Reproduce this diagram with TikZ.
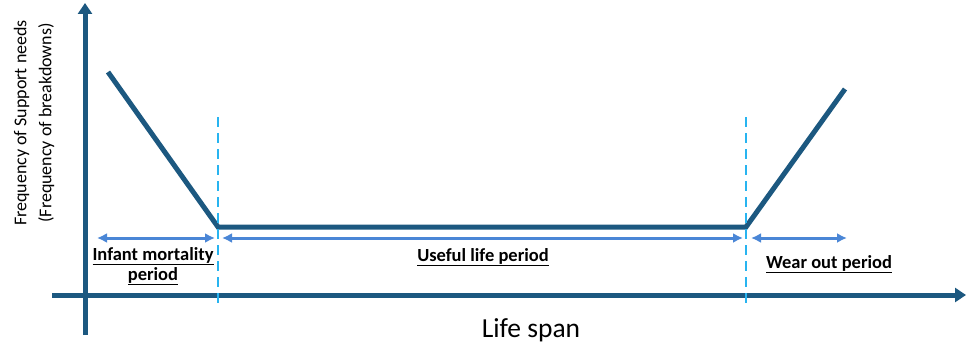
\documentclass[tikz,border=0pt]{standalone}
\usepackage{fontspec}
\setmainfont{Carlito}
\usepackage{tikz}
\usetikzlibrary{arrows.meta, positioning}
\definecolor{axisblue}{RGB}{28,88,128}
\definecolor{spanblue}{RGB}{74,134,214}
\definecolor{phasecyan}{RGB}{40,180,240}
\tikzset{
    axisline/.style={line width=5pt, axisblue, -{Triangle[length=11pt, width=14pt]}},
    curveline/.style={line width=5pt, axisblue, line join=miter},
    phaseline/.style={line width=2.5pt, phasecyan, dash pattern=on 10pt off 6pt},
    spanarrow/.style={{Latex[length=10pt, width=10pt]}-{Latex[length=10pt, width=10pt]},
        line width=3pt, spanblue},
    phaselabel/.style={anchor=base, align=center, font=\fontsize{18.5}{20}\selectfont\bfseries},
}

\begin{document}
\begin{tikzpicture}[x=1pt, y=-1pt]
    \useasboundingbox (0,0) rectangle (967,345);

    % axes
    \coordinate (yfoot) at (85,335);
    \coordinate (ytip) at (85,3);
    \coordinate (xfoot) at (52,295);
    \coordinate (xtip) at (966,295);
    \draw[axisline] (yfoot) -- (ytip);
    \draw[axisline] (xfoot) -- (xtip);

    % bathtub curve
    \coordinate (start) at (108,72);
    \coordinate (kneeA) at (218,227);
    \coordinate (kneeB) at (746,227);
    \coordinate (finish) at (845,89);
    \draw[curveline] (start) -- (kneeA) -- (kneeB) -- (finish);

    % period borders
    \coordinate (borderAtop) at (218,117);
    \coordinate (borderAbot) at (218,307);
    \coordinate (borderBtop) at (746,117);
    \coordinate (borderBbot) at (746,307);
    \draw[phaseline] (borderAtop) -- (borderAbot);
    \draw[phaseline] (borderBtop) -- (borderBbot);

    % period spans
    \coordinate (infantL) at (97,238);
    \coordinate (infantR) at (215,238);
    \coordinate (usefulL) at (222,238);
    \coordinate (usefulR) at (743,238);
    \coordinate (wearL) at (751,238);
    \coordinate (wearR) at (847,238);
    \draw[spanarrow] (infantL) -- (infantR);
    \draw[spanarrow] (usefulL) -- (usefulR);
    \draw[spanarrow] (wearL) -- (wearR);

    \node[phaselabel] (infant) at (153,280) {\underline{Infant mortality}\\\underline{period}};
    \node[phaselabel] (useful) at (483,261) {\underline{Useful life period}};
    \node[phaselabel] (wear) at (829,268) {\underline{Wear out period}};

    % axis titles
    \node[anchor=base] (xtitle) at (531,337) {\fontsize{27.5}{30}\selectfont Life span};
    \node[rotate=90, align=center, font=\fontsize{18}{25}\selectfont] (ytitle) at (34,123)
        {Frequency of Support needs\\(Frequency of breakdowns)};
\end{tikzpicture}
\end{document}
